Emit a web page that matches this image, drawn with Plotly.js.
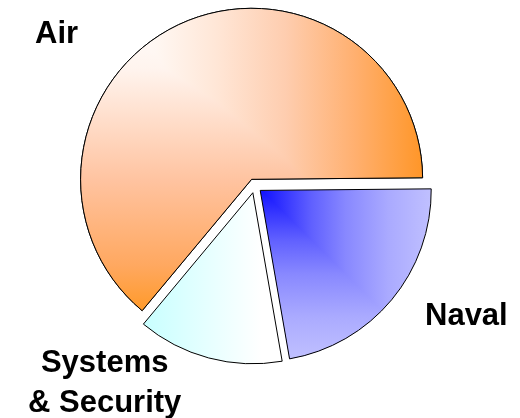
<!DOCTYPE html>
<html>
<head>
<meta charset="utf-8">
<script src="https://cdn.plot.ly/plotly-3.0.1.min.js"></script>
<style>
html, body { margin: 0; padding: 0; background: #ffffff; }
#chart { width: 520px; height: 418px; }
</style>
</head>
<body>
<div id="chart"></div>
<script>
// Data (share of business, %), in drawing order counterclockwise from 3 o'clock
const categories = ["Air", "Systems & Security", "Naval"];
const values = [63.8, 13.8, 22.4];
const labelTexts = ["Air", "Systems<br>&amp; Security", "Naval"];

const baseColors = ["#FFB070", "#E4FFFF", "#8C8CFF"];

const trace = {
  type: "pie",
  labels: categories,
  values: values,
  sort: false,
  direction: "counterclockwise",
  rotation: -140.2,
  pull: [0.042, 0.042, 0.042],
  textinfo: "none",
  hoverinfo: "none",
  marker: {
    colors: baseColors,
    line: { color: "#000000", width: 1 }
  },
  domain: { x: [0.1471, 0.8325], y: [0.1292, 0.9818] }
};

const labelFont = { family: "Liberation Sans, Arial, sans-serif", size: 31, color: "#000000", weight: 700 };

const layout = {
  width: 520,
  height: 418,
  margin: { l: 0, r: 0, t: 0, b: 0 },
  paper_bgcolor: "#ffffff",
  plot_bgcolor: "#ffffff",
  showlegend: false,
  hovermode: false,
  annotations: [
    { text: labelTexts[0], xref: "paper", yref: "paper", x: 0.1096, y: 0.922, xanchor: "center", yanchor: "middle", showarrow: false, font: labelFont },
    { text: labelTexts[1], xref: "paper", yref: "paper", x: 0.202, y: 0.0862, xanchor: "center", yanchor: "middle", align: "center", showarrow: false, font: labelFont },
    { text: labelTexts[2], xref: "paper", yref: "paper", x: 0.897, y: 0.2476, xanchor: "center", yanchor: "middle", showarrow: false, font: labelFont }
  ]
};

Plotly.newPlot("chart", [trace], layout, { displayModeBar: false, staticPlot: true }).then(function (gd) {
  // Apply gradient fills ("from corner" style) to the slices drawn by Plotly
  const NS = "http://www.w3.org/2000/svg";
  const svg = gd.querySelector("svg.main-svg");
  const defs = document.createElementNS(NS, "defs");
  svg.insertBefore(defs, svg.firstChild);

  function linear(id, x1, y1, x2, y2, stops) {
    const g = document.createElementNS(NS, "linearGradient");
    g.setAttribute("id", id);
    g.setAttribute("x1", x1); g.setAttribute("y1", y1);
    g.setAttribute("x2", x2); g.setAttribute("y2", y2);
    stops.forEach(function (s) {
      const st = document.createElementNS(NS, "stop");
      st.setAttribute("offset", s[0]);
      st.setAttribute("stop-color", s[1]);
      g.appendChild(st);
    });
    defs.appendChild(g);
  }

  linear("gAirH", 0, 0, 1, 0, [[0, "#FFFFFF"], [0.17, "#FFFCFA"], [0.4, "#FFE6D6"], [0.6, "#FECDAF"], [0.8, "#FFB070"], [1, "#FF9628"]]);
  linear("gAirV", 0, 0, 0, 1, [[0, "#FFFFFF"], [0.2, "#FFF4EE"], [0.57, "#FFC3A0"], [0.85, "#FFA860"], [1, "#FF9A2A"]]);
  linear("gSys", 0, 0, 1, 0, [[0, "#C8FFFF"], [0.85, "#FFFFFF"], [1, "#FFFFFF"]]);
  const navStops = [[0, "#1010FF"], [0.3, "#6060FF"], [0.5, "#8888FF"], [0.75, "#AAAAFF"], [1, "#C0C0FF"]];
  linear("gNavH", 0, 0, 1, 0, navStops);
  linear("gNavV", 0, 0, 0, 1, navStops);

  const fills = [
    { base: "gAirH", over: "gAirV", blend: "darken" },
    { base: "gSys" },
    { base: "gNavH", over: "gNavV", blend: "lighten" }
  ];
  const paths = Array.prototype.slice.call(gd.querySelectorAll(".pielayer .slice path.surface"));
  paths.forEach(function (p, i) {
    const f = fills[i];
    p.style.fill = "url(#" + f.base + ")";
    if (f.over) {
      const c = p.cloneNode(true);
      c.style.fill = "url(#" + f.over + ")";
      c.style.mixBlendMode = f.blend;
      p.parentNode.insertBefore(c, p.nextSibling);
    }
  });
});
</script>
</body>
</html>
